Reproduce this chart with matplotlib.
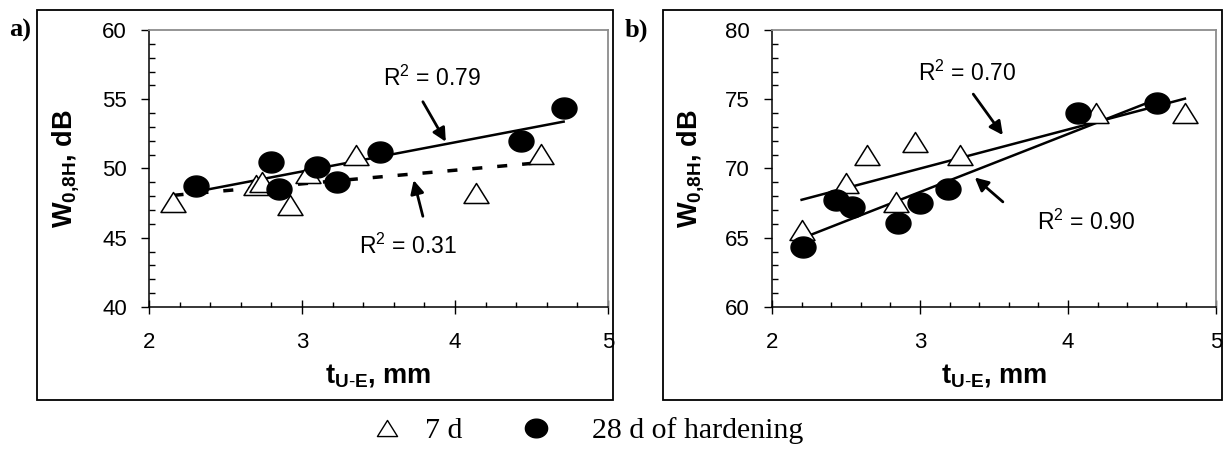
import numpy as np
import matplotlib
matplotlib.use('Agg')
import matplotlib.pyplot as plt
from matplotlib.lines import Line2D
from matplotlib.patches import Rectangle
from matplotlib.path import Path
from matplotlib.ticker import MultipleLocator

plt.rcParams['font.family'] = 'Liberation Sans'
plt.rcParams['mathtext.fontset'] = 'custom'
plt.rcParams['mathtext.rm'] = 'Liberation Sans'
plt.rcParams['mathtext.bf'] = 'Liberation Sans:bold'

# panel a) - 7 d and 28 d of hardening
a_x7 = [2.16, 2.70, 2.74, 2.92, 3.04, 3.355, 4.14, 4.56]
a_y7 = [47.59, 48.80, 49.00, 47.35, 49.70, 50.96, 48.24, 51.08]
a_x28 = [2.31, 2.80, 2.85, 3.10, 3.23, 3.51, 4.43, 4.71]
a_y28 = [48.75, 50.48, 48.55, 50.12, 49.04, 51.20, 51.98, 54.34]

# panel b)
b_x7 = [2.20, 2.50, 2.64, 2.84, 2.965, 3.27, 4.19, 4.79]
b_y7 = [65.54, 68.96, 70.96, 67.59, 71.93, 70.96, 73.98, 73.98]
b_x28 = [2.21, 2.43, 2.54, 2.85, 3.00, 3.19, 4.07, 4.60]
b_y28 = [64.34, 67.76, 67.23, 66.07, 67.52, 68.55, 73.98, 74.70]

xlim = (2, 5)
a_ylim = (40, 60)
b_ylim = (60, 80)
panel_labels = ['a)', 'b)']
legend_labels = ['7 d', '28 d of hardening']
r2_a = ['R$^2$ = 0.79', 'R$^2$ = 0.31']
r2_b = ['R$^2$ = 0.70', 'R$^2$ = 0.90']

W, H = 1224, 453
fig = plt.figure(figsize=(W / 100, H / 100), dpi=100)


def fx(px):
    return px / W


def fy(py):
    return 1 - py / H


# slightly wide markers, like the excel ones
t = np.linspace(0, 2 * np.pi, 60)
oval = Path(np.column_stack([np.cos(t), 0.84 * np.sin(t)]), closed=True)
wtri = Path([(0, 0.8), (-1, -0.8), (1, -0.8), (0, 0.8)], closed=True)


def trend(ax, x, y, **kw):
    p = np.polyfit(x, y, 1)
    xs = np.array([min(x), max(x)])
    ax.plot(xs, np.polyval(p, xs), color='black', zorder=2, **kw)


def setup(ax, ylim):
    ax.set_xlim(*xlim)
    ax.set_ylim(*ylim)
    ax.xaxis.set_major_locator(MultipleLocator(1))
    ax.xaxis.set_minor_locator(MultipleLocator(0.2))
    ax.yaxis.set_major_locator(MultipleLocator(5))
    ax.yaxis.set_minor_locator(MultipleLocator(1))
    ax.tick_params(axis='x', which='major', direction='inout', length=9.7,
                   width=1, pad=13, labelsize=16)
    ax.tick_params(axis='x', which='minor', direction='in', length=3.6, width=1)
    ax.tick_params(axis='y', which='major', direction='out', length=6,
                   width=1, pad=10, labelsize=16)
    ax.tick_params(axis='y', which='minor', direction='in', length=4.5, width=1)
    for s in ['left', 'bottom']:
        ax.spines[s].set_linewidth(1.1)
        ax.spines[s].set_color('black')
    for s in ['top', 'right']:
        ax.spines[s].set_linewidth(1.3)
        ax.spines[s].set_color('#8c8c8c')
    ax.set_xlabel(r'$\mathbf{t_{U\text{-}E}}$, mm', fontsize=19.5, fontweight='bold')
    ax.set_ylabel(r'$\mathbf{W_{0{,}8H}}$, dB', fontsize=19.5, fontweight='bold')
    ax.yaxis.set_label_coords(-0.148, 0.5)
    ax.xaxis.set_label_coords(0.5, -0.2)


tri = dict(marker=wtri, ls='none', mfc='white', mec='black', ms=18, mew=1.1, zorder=3)
dot = dict(marker=oval, ls='none', mfc='black', mec='black', ms=18, zorder=4)
arr = dict(arrowstyle='-|>', lw=2, color='black', mutation_scale=20,
           shrinkA=0, shrinkB=0)

# frames around panels
for x0, x1 in [(37, 613), (663, 1222)]:
    fig.add_artist(Rectangle((fx(x0), fy(400)), fx(x1) - fx(x0), fy(10) - fy(400),
                             transform=fig.transFigure, fill=False, lw=1.3,
                             ec='black'))

ax_a = fig.add_axes([fx(149), fy(307), fx(608) - fx(149), fy(30) - fy(307)])
ax_b = fig.add_axes([fx(772), fy(307), fx(1216) - fx(772), fy(30) - fy(307)])

# a)
setup(ax_a, a_ylim)
trend(ax_a, a_x7, a_y7, lw=2.5, ls=(0, (2.9, 4.3)))
trend(ax_a, a_x28, a_y28, lw=1.8)
ax_a.plot(a_x7, a_y7, **tri)
ax_a.plot(a_x28, a_y28, **dot)
ax_a.text(3.85, 56.5, r2_a[0], fontsize=16.5, ha='center', va='center')
ax_a.text(3.69, 44.4, r2_a[1], fontsize=16.5, ha='center', va='center')
ax_a.annotate('', xy=(3.94, 51.93), xytext=(3.79, 54.82), arrowprops=arr)
ax_a.annotate('', xy=(3.73, 49.16), xytext=(3.79, 46.55), arrowprops=arr)

# b)
setup(ax_b, b_ylim)
trend(ax_b, b_x7, b_y7, lw=1.8)
trend(ax_b, b_x28, b_y28, lw=1.8)
ax_b.plot(b_x7, b_y7, **tri)
ax_b.plot(b_x28, b_y28, **dot)
ax_b.text(3.32, 76.87, r2_b[0], fontsize=16.5, ha='center', va='center')
ax_b.text(4.12, 66.14, r2_b[1], fontsize=16.5, ha='center', va='center')
ax_b.annotate('', xy=(3.56, 72.41), xytext=(3.36, 75.37), arrowprops=arr)
ax_b.annotate('', xy=(3.37, 69.35), xytext=(3.56, 67.59), arrowprops=arr)

# panel letters
fig.text(fx(9), fy(37), panel_labels[0], fontsize=19, fontweight='bold',
         family='Liberation Serif', va='baseline')
fig.text(fx(625), fy(37), panel_labels[1], fontsize=19, fontweight='bold',
         family='Liberation Serif', va='baseline')

# legend below the panels
serif = dict(family='Liberation Serif', size=21.5)
h7 = Line2D([], [], marker=wtri, ls='none', mfc='white', mec='black', ms=14.5, mew=1)
h28 = Line2D([], [], marker=oval, ls='none', mfc='black', mec='black', ms=16)
fig.legend([h7], [legend_labels[0]], loc='center left', bbox_to_anchor=(fx(372), fy(431)),
           frameon=False, prop=serif, handlelength=1, handletextpad=0.77,
           borderpad=0, borderaxespad=0)
fig.legend([h28], [legend_labels[1]], loc='center left', bbox_to_anchor=(fx(521), fy(431)),
           frameon=False, prop=serif, handlelength=1, handletextpad=1.37,
           borderpad=0, borderaxespad=0)

fig.savefig('out.png', dpi=100)
